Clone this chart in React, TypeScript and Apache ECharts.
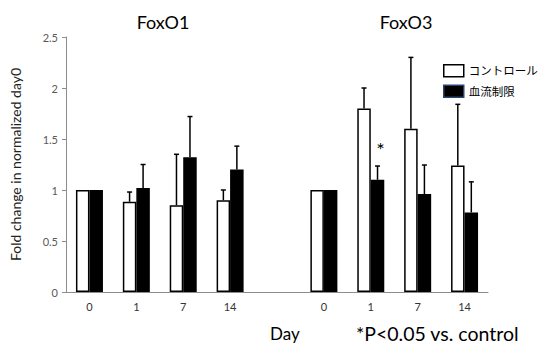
import React, { useEffect, useRef } from "react";
import * as echarts from "echarts";

const categories = ["0", "1", "7", "14", "", "0", "1", "7", "14"];
const controlMean = [1.0, 0.885, 0.85, 0.9, null, 1.0, 1.8, 1.6, 1.24];
const controlUpper = [1.0, 0.98, 1.35, 1.0, null, 1.0, 2.0, 2.3, 1.84];
const bfrMean = [1.0, 1.02, 1.32, 1.2, null, 1.0, 1.1, 0.96, 0.78];
const bfrUpper = [1.0, 1.25, 1.72, 1.43, null, 1.0, 1.235, 1.245, 1.08];
const bfrSignificant = [false, false, false, false, false, false, true, false, false];
const seriesNames = ["コントロール", "血流制限"];
const panelTitles = ["FoxO1", "FoxO3"];

const FONT = "Lato, 'Noto Sans CJK JP', sans-serif";
const BAR_W = 13.5;

function errorSeries(mean: (number | null)[], upper: (number | null)[], offset: number, sig?: boolean[]) {
  const data = mean.map((m, i) => [i, m, upper[i], sig && sig[i] ? 1 : 0]);
  return {
    type: "custom",
    silent: true,
    z: 5,
    data: data.filter((d) => d[1] != null),
    renderItem: (params: any, api: any) => {
      const i = api.value(0);
      const m = api.value(1);
      const u = api.value(2);
      const s = api.value(3);
      const p0 = api.coord([i, m]);
      const p1 = api.coord([i, u]);
      const x = p0[0] + offset;
      const children: any[] = [];
      if (u > m) {
        children.push({
          type: "line",
          shape: { x1: x, y1: p0[1], x2: x, y2: p1[1] },
          style: { stroke: "#000", lineWidth: 1.5 },
        });
        children.push({
          type: "line",
          shape: { x1: x - 2.5, y1: p1[1], x2: x + 2.5, y2: p1[1] },
          style: { stroke: "#000", lineWidth: 1.5 },
        });
      }
      if (s) {
        children.push({
          type: "text",
          x: x + 3,
          y: p1[1] - 17,
          style: { text: "*", fill: "#000", font: "20px " + FONT, align: "center", verticalAlign: "middle" },
        });
      }
      return { type: "group", children };
    },
  };
}

export default function App() {
  const ref = useRef<HTMLDivElement>(null);
  useEffect(() => {
    if (!ref.current) return;
    const chart = echarts.init(ref.current, null, { renderer: "svg" });
    const titleStyle = { fontSize: 18, fontWeight: "normal", color: "#000", fontFamily: FONT };
    chart.setOption({
      animation: false,
      backgroundColor: "#fff",
      textStyle: { fontFamily: FONT },
      title: [
        { text: panelTitles[0], left: 158, top: 8, textAlign: "center", textStyle: titleStyle },
        { text: panelTitles[1], left: 401, top: 8, textAlign: "center", textStyle: titleStyle },
      ],
      legend: {
        orient: "vertical",
        left: 438,
        top: 59,
        itemWidth: 20,
        itemHeight: 12,
        itemGap: 7,
        textStyle: { fontSize: 11.5, lineHeight: 12, color: "#000", fontFamily: FONT },
        data: [
          { name: seriesNames[0], icon: "rect", itemStyle: { color: "#fff", borderColor: "#000", borderWidth: 1.5 } },
          { name: seriesNames[1], icon: "rect", itemStyle: { color: "#000", borderColor: "#2a4470", borderWidth: 1.5 } },
        ],
      },
      grid: { left: 64, right: 51, top: 37, bottom: 51 },
      xAxis: {
        type: "category",
        data: categories,
        axisLine: { lineStyle: { color: "#8c8c8c", width: 1 } },
        axisTick: { length: 4, lineStyle: { color: "#8c8c8c" } },
        axisLabel: { color: "#333", fontSize: 11, margin: 9, fontFamily: FONT },
      },
      yAxis: {
        type: "value",
        min: 0,
        max: 2.5,
        interval: 0.5,
        name: "Fold change in normalized day0",
        nameLocation: "middle",
        nameGap: 44,
        nameTextStyle: { fontSize: 14, color: "#222", fontFamily: FONT },
        axisLine: { show: true, lineStyle: { color: "#8c8c8c", width: 1 } },
        axisTick: { show: true, length: 4, lineStyle: { color: "#8c8c8c" } },
        axisLabel: { color: "#595959", fontSize: 11, margin: 8, fontFamily: FONT },
        splitLine: { show: false },
      },
      graphic: [
        { type: "text", x: 270, y: 333, style: { text: "Day", font: "17px " + FONT, fill: "#000", verticalAlign: "middle" } },
        { type: "text", x: 356, y: 333, style: { text: "*P<0.05 vs. control", font: "19.5px " + FONT, fill: "#000", verticalAlign: "middle" } },
      ],
      series: [
        {
          name: seriesNames[0],
          type: "bar",
          data: controlMean,
          barWidth: BAR_W,
          barGap: "0%",
          itemStyle: { color: "#fff", borderColor: "#000", borderWidth: 1.5 },
        },
        {
          name: seriesNames[1],
          type: "bar",
          data: bfrMean,
          barWidth: BAR_W,
          barGap: "0%",
          itemStyle: { color: "#000", borderColor: "#000", borderWidth: 1.5 },
        },
        errorSeries(controlMean, controlUpper, -BAR_W / 2),
        errorSeries(bfrMean, bfrUpper, BAR_W / 2, bfrSignificant),
      ],
    });
    return () => chart.dispose();
  }, []);
  return <div ref={ref} style={{ width: 539, height: 343, position: "absolute", left: 0, top: 0 }} />;
}
